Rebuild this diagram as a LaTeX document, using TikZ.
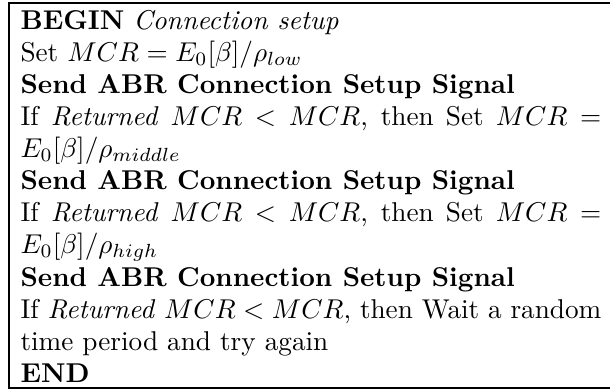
\documentclass[tikz,border=0pt]{standalone}
\usepackage{amsmath,amssymb}
\usepackage{tikz}
\usetikzlibrary{positioning}
\tikzset{
algotext/.style={
anchor=north west,
inner sep=0pt,
text width=213.5pt,
align=justify,
font=\fontsize{10pt}{11.8pt}\selectfont
},
frame/.style={
line width=0.65pt
}
}

\begin{document}
\begin{tikzpicture}[x=0.3676pt,y=-0.3676pt]

\useasboundingbox (0,0) rectangle (610,392);

% box corners (right side runs off the page)
\coordinate(tl) at (9,3);
\coordinate(bl) at (9,388);
\coordinate(tr) at (614,3);
\coordinate(br) at (614,388);

\node[algotext](algo) at (20,9.5){%
\textbf{BEGIN} \textit{Connection setup}\\
Set $MCR = E_0[\beta]/\rho_{low}$\\
\textbf{Send ABR Connection Setup Signal}\\
If \textit{Returned} $MCR < MCR$, then Set $MCR = E_0[\beta]/\rho_{middle}$\\
\textbf{Send ABR Connection Setup Signal}\\
If \textit{Returned} $MCR < MCR$, then Set $MCR = E_0[\beta]/\rho_{high}$\\
\textbf{Send ABR Connection Setup Signal}\\
If \textit{Returned} $MCR < MCR$, then Wait a random time period and try again\\
\textbf{END}};

\draw[frame](tr)--(tl)--(bl)--(br);

\end{tikzpicture}
\end{document}
